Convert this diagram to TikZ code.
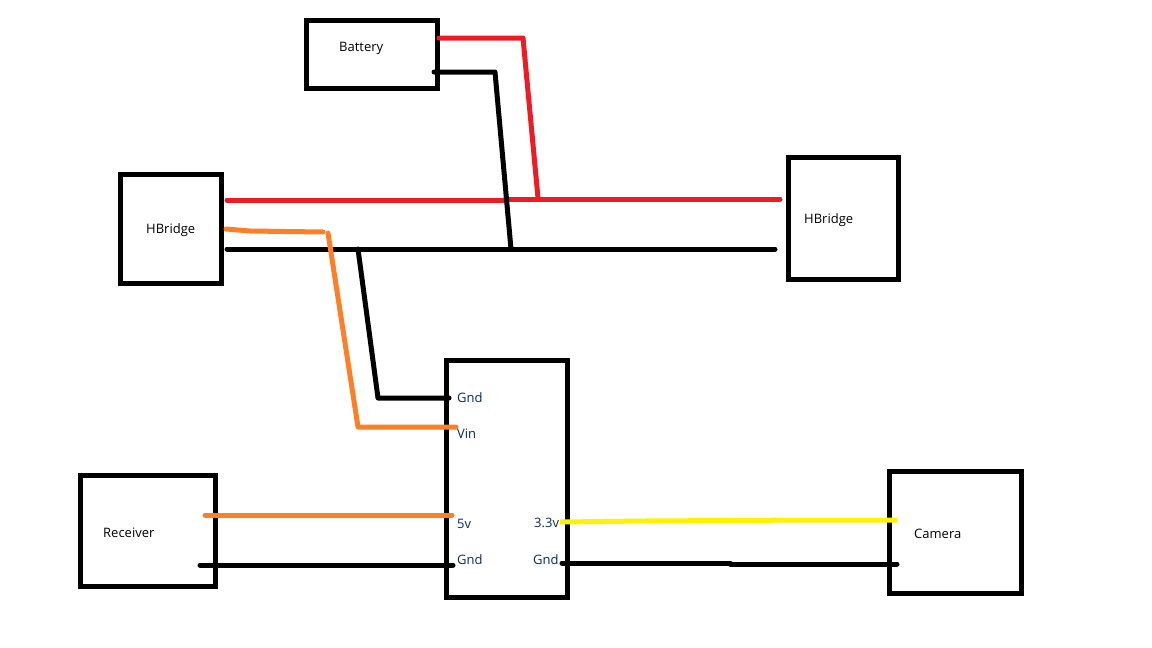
\documentclass[tikz,border=0pt]{standalone}
\usepackage{fontspec}
\setmainfont{Open Sans}
\definecolor{wred}{HTML}{ED1C24}
\definecolor{worange}{HTML}{FF7F27}
\definecolor{wyellow}{HTML}{FFF200}
\definecolor{navy}{HTML}{0A2A5C}
\tikzset{
 box/.style={draw=black,line width=5pt,fill=white,inner sep=0pt},
 wire/.style={line width=5pt,line cap=round,line join=round},
 lab/.style={font=\fontsize{13}{15}\selectfont,text=black,inner sep=0pt,anchor=west},
 pin/.style={font=\fontsize{13}{15}\selectfont,text=navy,inner sep=0pt,anchor=west}
}
\newcommand{\boxat}[5]{\node[box,minimum width=#4 pt-5pt,minimum height=#5 pt-5pt,anchor=north west] (#1) at (#2,#3) {};}
\begin{document}
\begin{tikzpicture}[x=1pt,y=-1pt]
\useasboundingbox[fill=white] (0,0) rectangle (1152,648);
% boxes
\boxat{bat}{304}{18}{136}{73}
\boxat{hbl}{118}{172}{106}{114}
\boxat{hbr}{786}{155}{115}{127}
\boxat{reg}{444}{358}{126}{242}
\boxat{rcv}{78}{473}{140}{116}
\boxat{cam}{887}{469}{137}{127}
% labels
\node[lab] (tbat) at (339,48) {Battery};
\node[lab] (thl) at (146,230) {HBridge};
\node[lab] (thr) at (804,220) {HBridge};
\node[lab] (trcv) at (103,533) {Receiver};
\node[lab] (tcam) at (914,534) {Camera};
\node[pin] (pgnd) at (457,398) {Gnd};
\node[pin] (pvin) at (457,434) {Vin};
\node[pin] (p5v) at (457,524) {5v};
\node[pin] (pgnd2) at (457,560) {Gnd};
\node[pin] (p33) at (534,523) {3.3v};
\node[pin] (pgnd3) at (533,560) {Gnd};
% coordinates
\coordinate (r1) at (439,38); \coordinate (r2) at (523,38); \coordinate (r3) at (538,198);
\coordinate (k1) at (434,72); \coordinate (k2) at (495,72); \coordinate (k3) at (511,249);
\coordinate (ra) at (227,200); \coordinate (rb) at (505,200); \coordinate (rb2) at (505,199); \coordinate (rc) at (780,199);
\coordinate (ka) at (227,249); \coordinate (kb) at (775,249);
\coordinate (o1) at (226,229); \coordinate (o1b) at (250,231); \coordinate (o2) at (323,232);
\coordinate (o3) at (328,233); \coordinate (o4) at (358,427); \coordinate (o5) at (456,427);
\coordinate (k4) at (358,249); \coordinate (k5) at (378,398); \coordinate (k6) at (449,398);
\coordinate (o6) at (205,515); \coordinate (o7) at (452,515);
\coordinate (k7) at (200,565); \coordinate (k8) at (453,565);
\coordinate (y1) at (560,522); \coordinate (y2) at (645,521); \coordinate (y3) at (812,520); \coordinate (y4) at (897,520);
\coordinate (k9) at (562,563); \coordinate (k10) at (730,563); \coordinate (k11) at (730,564); \coordinate (k12) at (897,564);
% wires
\draw[wire,wred] (ra) -- (rb) -- (rb2) -- (rc);
\draw[wire,wred] (r1) -- (r2) -- (r3);
\draw[wire,black] (ka) -- (kb);
\draw[wire,black] (k1) -- (k2) -- (k3);
\draw[wire,black] (k4) -- (k5) -- (k6);
\draw[wire,worange] (o1) -- (o1b) -- (o2);
\draw[wire,worange] (o3) -- (o4) -- (o5);
\draw[wire,worange] (o6) -- (o7);
\draw[wire,black] (k7) -- (k8);
\draw[wire,wyellow,line cap=butt] (y1) -- (y2) -- (y3) -- (y4);
\draw[wire,black] (k9) -- (k10) -- (k11) -- (k12);
\end{tikzpicture}
\end{document}
